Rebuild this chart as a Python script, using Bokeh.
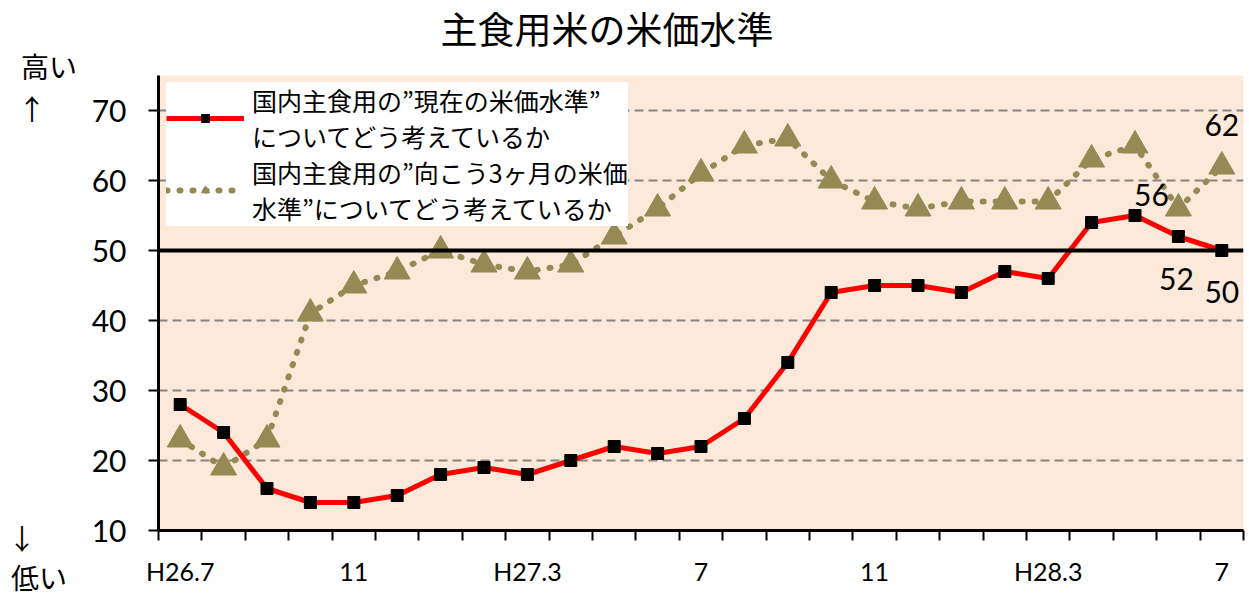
from bokeh.plotting import figure
from bokeh.layouts import row, column
from bokeh.models import FixedTicker, Span, Legend, LegendItem, ColumnDataSource, Range1d, Div
from bokeh.embed import file_html
from bokeh.resources import INLINE
from bokeh.core.properties import value

months = ["H26.7", "8", "9", "10", "11", "12", "H27.1", "2", "3", "4", "5", "6",
          "7", "8", "9", "10", "11", "12", "H28.1", "2", "3", "4", "5", "6", "7"]
current = [28, 24, 16, 14, 14, 15, 18, 19, 18, 20, 22, 21, 22, 26, 34, 44, 45, 45,
           44, 47, 46, 54, 55, 52, 50]
outlook = [23, 19, 23, 41, 45, 47, 50, 48, 47, 48, 52, 56, 61, 65, 66, 60, 57, 56,
           57, 57, 57, 63, 65, 56, 62]
shown_ticks = [0, 4, 8, 12, 16, 20, 24]
shown_tick_labels = ["H26.7", "11", "H27.3", "7", "11", "H28.3", "7"]
y_ticks = [10, 20, 30, 40, 50, 60, 70]
grid_ticks = [20, 30, 40, 60, 70]
name_current = "国内主食用の”現在の米価水準”\nについてどう考えているか"
name_outlook = "国内主食用の”向こう3ヶ月の米価\n水準”についてどう考えているか"
title_text = "主食用米の米価水準"
side_texts = ["高い", "↑", "↓", "低い"]

idx = list(range(len(months)))
JP = "Noto Sans CJK JP"
NUM = "Lato"

TOP_H = 49
SIDE_W = 86
MAIN_W = 1161
MAIN_H = 547

# ---------- title (HTML text) ----------
title_div = Div(
    text=('<div style="position:relative;width:1247px;height:%dpx;">'
          '<span style="position:absolute;left:607px;top:28px;transform:translate(-50%%,-50%%);'
          'white-space:nowrap;line-height:1;font-family:\'%s\';font-size:37px;color:#000;">%s</span></div>')
         % (TOP_H, JP, title_text),
    width=1247, height=TOP_H, margin=0)

# ---------- side texts 高い / 低い ----------
side_x = [49, 32, 22, 39]
side_y = [66 - TOP_H, 108 - TOP_H, 538 - TOP_H, 577 - TOP_H]
spans = "".join(
    '<span style="position:absolute;left:%dpx;top:%dpx;transform:translate(-50%%,-50%%);'
    'white-space:nowrap;line-height:1;">%s</span>' % (x, y, t)
    for x, y, t in zip(side_x, side_y, side_texts))
side_div = Div(
    text=('<div style="position:relative;width:%dpx;height:%dpx;font-family:\'%s\';'
          'font-size:28px;color:#000;">%s</div>') % (SIDE_W, MAIN_H, JP, spans),
    width=SIDE_W, height=MAIN_H, margin=0)

# ---------- main chart ----------
p = figure(width=MAIN_W, height=MAIN_H, x_range=Range1d(-0.5, len(months) - 0.5),
           y_range=Range1d(10, 75), output_backend="svg", toolbar_location=None,
           min_border_left=158 - SIDE_W, min_border_right=4,
           min_border_top=75 - TOP_H, min_border_bottom=TOP_H + MAIN_H - 530)
p.background_fill_color = "#FDE9D9"
p.border_fill_color = "white"
p.outline_line_color = None
p.xgrid.visible = False

# x axis
p.xaxis.ticker = FixedTicker(ticks=shown_ticks, minor_ticks=[i - 0.5 for i in range(len(months) + 1)])
p.xaxis.major_label_overrides = {t: l for t, l in zip(shown_ticks, shown_tick_labels)}
p.xaxis.major_tick_line_color = None
p.xaxis.major_tick_out = 0
p.xaxis.major_tick_in = 0
p.xaxis.minor_tick_line_color = "black"
p.xaxis.minor_tick_line_width = 2
p.xaxis.minor_tick_out = 10
p.xaxis.minor_tick_in = 0
p.xaxis.axis_line_width = 3
p.xaxis.axis_line_color = "black"
p.xaxis.major_label_standoff = 15
p.xaxis.major_label_text_font = NUM
p.xaxis.major_label_text_font_size = "25px"
p.xaxis.major_label_text_color = "black"

# y axis
p.yaxis.ticker = FixedTicker(ticks=y_ticks, minor_ticks=[])
p.yaxis.major_tick_out = 10
p.yaxis.major_tick_in = 0
p.yaxis.major_tick_line_width = 2
p.yaxis.axis_line_width = 3
p.yaxis.axis_line_color = "black"
p.yaxis.major_label_standoff = 22
p.yaxis.major_label_text_font = NUM
p.yaxis.major_label_text_font_size = "30px"
p.yaxis.major_label_text_color = "black"

p.ygrid.ticker = FixedTicker(ticks=grid_ticks, minor_ticks=[])
p.ygrid.grid_line_color = "#858585"
p.ygrid.grid_line_width = 2
p.ygrid.grid_line_dash = "9 5"

p.add_layout(Span(location=50, dimension="width", line_color="black", line_width=4))

r2 = p.line(idx, outlook, line_color="#948A54", line_width=6, line_dash="1 12", line_cap="round")
r2m = p.scatter(idx, outlook, marker="triangle", size=26, fill_color="#948A54", line_color="#948A54")
r1 = p.line(idx, current, line_color="#FF0000", line_width=5)
r1m = p.scatter(idx, current, marker="square", size=12, fill_color="black", line_color="black")

# data labels
lab_src = ColumnDataSource(dict(
    x=[24, 23, 23, 24],
    y=[outlook[24], outlook[23], current[23], current[24]],
    text=[str(outlook[24]), str(outlook[23]), str(current[23]), str(current[24])],
    xo=[0, -27, -2, 0],
    yo=[-42, -14, 42, 41],
))
p.text(x="x", y="y", text="text", x_offset="xo", y_offset="yo", source=lab_src,
       text_font=value(NUM), text_font_size="30px", text_align="center",
       text_baseline="middle", text_color="black")

legend = Legend(items=[LegendItem(label=name_current, renderers=[r1, r1m]),
                       LegendItem(label=name_outlook, renderers=[r2, r2m])],
                location=(8, 304))
legend.glyph_width = 78
legend.label_standoff = 8
legend.label_text_font = JP
legend.label_text_font_size = "25px"
legend.label_text_color = "black"
legend.background_fill_color = "white"
legend.background_fill_alpha = 1
legend.border_line_color = None
legend.padding = 3
legend.spacing = 0
legend.margin = 0
p.add_layout(legend)

layout = column(title_div, row(side_div, p, spacing=0), spacing=0)
open("out.html", "w").write(file_html(layout, INLINE))
